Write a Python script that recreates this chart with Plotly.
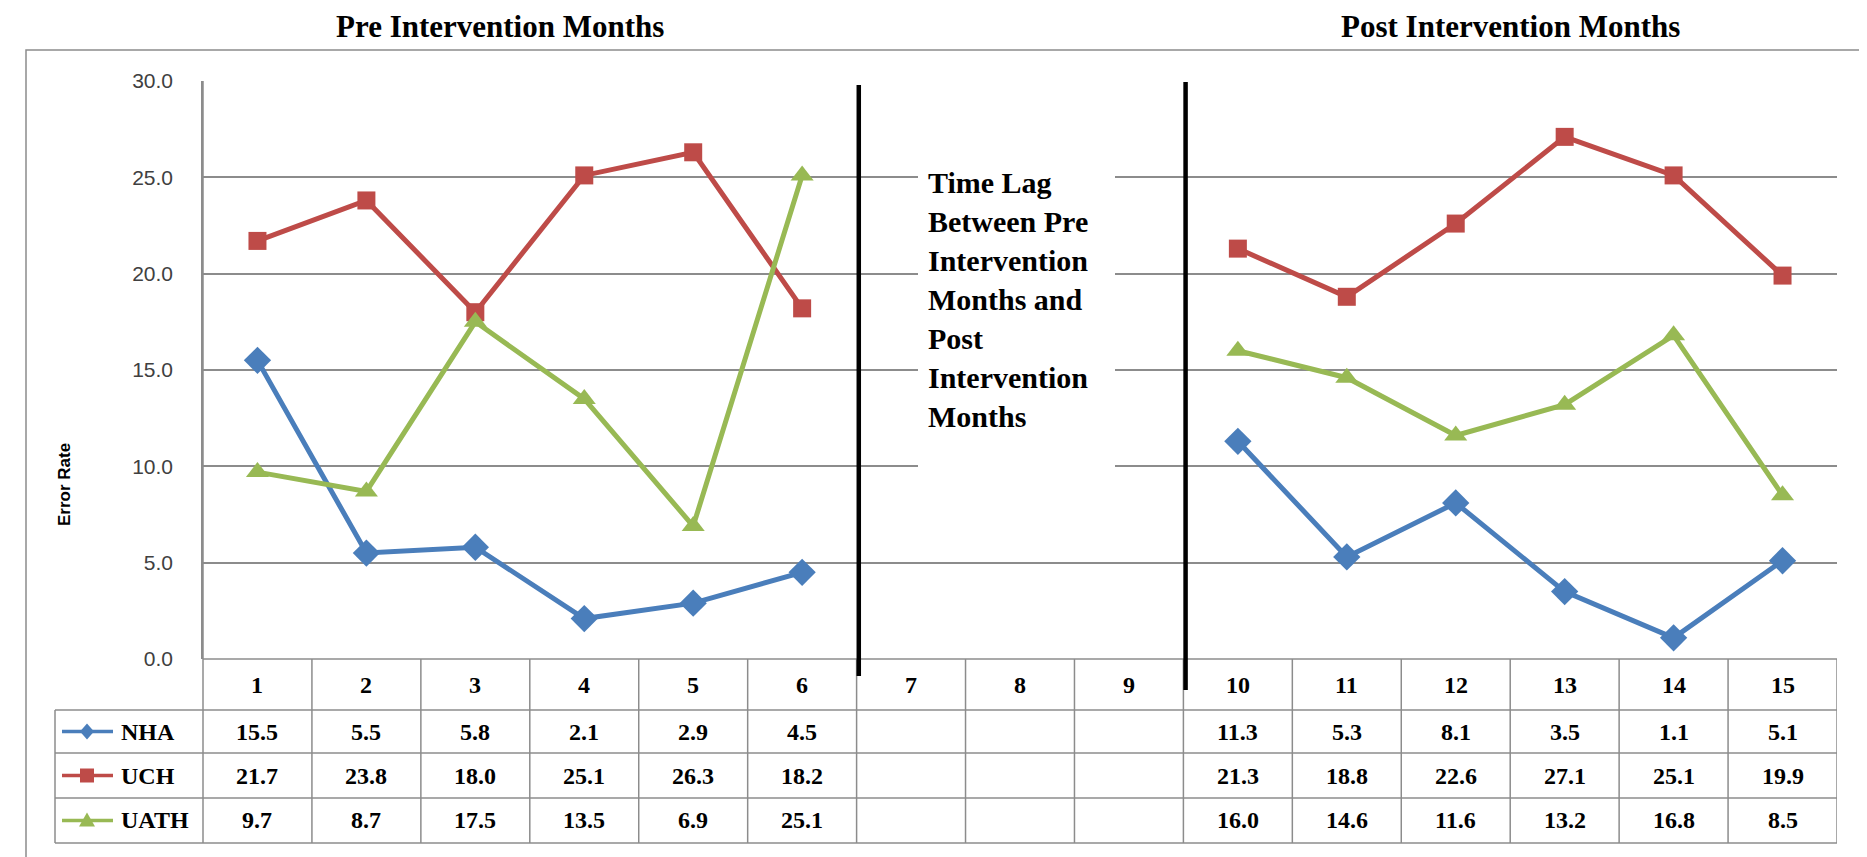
import plotly.graph_objects as go

# ---------------- data ----------------
months = list(range(1, 16))
nha = [15.5, 5.5, 5.8, 2.1, 2.9, 4.5, None, None, None, 11.3, 5.3, 8.1, 3.5, 1.1, 5.1]
uch = [21.7, 23.8, 18.0, 25.1, 26.3, 18.2, None, None, None, 21.3, 18.8, 22.6, 27.1, 25.1, 19.9]
uath = [9.7, 8.7, 17.5, 13.5, 6.9, 25.1, None, None, None, 16.0, 14.6, 11.6, 13.2, 16.8, 8.5]
series_names = ["NHA", "UCH", "UATH"]
y_ticks = [0, 5, 10, 15, 20, 25, 30]
pre_title = "Pre Intervention Months"
post_title = "Post Intervention Months"
y_title = "Error Rate"
lag_text = "Time Lag<br>Between Pre<br>Intervention<br>Months and<br>Post<br>Intervention<br>Months"

# ---------------- styles ----------------
OFF = 8                      # page body margin in the browser
W, H = 1867 - OFF, 857 - OFF
L, R, T, B = 203, 1837, 81, 659   # plot area in screen pixels
colors = ["#4A7EBB", "#BE4B48", "#98B954"]
symbols = ["diamond", "square", "triangle-up"]
msizes = [21, 18, 20]
grid = "#8C8C8C"
serif = "Liberation Serif, Times New Roman, serif"
sans = "Liberation Sans, Arial, sans-serif"


def px(x):
    return (x - L) / (R - L)


def py(y):
    return (B - y) / (B - T)


fig = go.Figure()
for name, vals, c, s, ms in zip(series_names, [nha, uch, uath], colors, symbols, msizes):
    fig.add_trace(go.Scatter(
        x=months, y=vals, name=name, mode="lines+markers", connectgaps=False,
        line=dict(color=c, width=5), marker=dict(symbol=s, size=ms, color=c),
        cliponaxis=False, showlegend=False))

shapes = []
annotations = []


def text_ann(x, y, text, xref="paper", yref="paper", size=24, family=serif,
             xanchor="center", yanchor="middle", **kw):
    d = dict(x=x, y=y, xref=xref, yref=yref, text=text, showarrow=False,
             xanchor=xanchor, yanchor=yanchor,
             font=dict(family=family, size=size, color="black", weight="bold"))
    d.update(kw)
    return d


# outer border
shapes.append(dict(type="rect", xref="paper", yref="paper", x0=px(26), x1=px(1864),
                   y0=py(50), y1=py(880), line=dict(color=grid, width=1.5), layer="below"))

# table horizontal lines
row_lines = [659, 710, 753, 798, 843]
for i, yl in enumerate(row_lines):
    x0 = px(203) if i == 0 else px(55)
    shapes.append(dict(type="line", xref="paper", yref="paper", x0=x0, x1=1,
                       y0=py(yl), y1=py(yl), line=dict(color=grid, width=1.5)))
# table vertical lines
shapes.append(dict(type="line", xref="paper", yref="paper", x0=px(55), x1=px(55),
                   y0=py(710), y1=py(843), line=dict(color=grid, width=1.5)))
shapes.append(dict(type="line", xref="paper", yref="paper", x0=0, x1=0,
                   y0=py(81), y1=py(843), line=dict(color=grid, width=1.5)))
for m in months:
    shapes.append(dict(type="line", xref="x", yref="paper", x0=m + 0.5, x1=m + 0.5,
                       y0=py(659), y1=py(843), line=dict(color=grid, width=1.5)))

# white box behind the lag text
shapes.append(dict(type="rect", xref="paper", yref="paper", x0=px(918), x1=px(1115),
                   y0=py(150), y1=py(478), fillcolor="white", line=dict(width=0),
                   layer="above"))

# thick separators
shapes.append(dict(type="line", xref="x", yref="paper", x0=6.52, x1=6.52,
                   y0=py(85), y1=py(676), line=dict(color="black", width=4.5)))
shapes.append(dict(type="line", xref="x", yref="paper", x0=9.52, x1=9.52,
                   y0=py(82), y1=py(690), line=dict(color="black", width=4.5)))

# header row
header_c = (659 + 710) / 2
for m in months:
    annotations.append(text_ann(m, py(header_c), str(m), xref="x"))

# data rows
row_c = [(710 + 753) / 2, (753 + 798) / 2, (798 + 843) / 2]
for name, vals, c, yc in zip(series_names, [nha, uch, uath], colors, row_c):
    for m, v in zip(months, vals):
        if v is None:
            continue
        annotations.append(text_ann(m, py(yc), f"{v:.1f}", xref="x"))
    # legend key
    shapes.append(dict(type="line", xref="paper", yref="paper", x0=px(62), x1=px(113),
                       y0=py(yc), y1=py(yc), line=dict(color=c, width=3.5)))
    xc = 87
    if name == "NHA":
        path = (f"M {px(xc)},{py(yc-8)} L {px(xc+7)},{py(yc)} L {px(xc)},{py(yc+8)} "
                f"L {px(xc-7)},{py(yc)} Z")
    elif name == "UCH":
        path = (f"M {px(xc-7)},{py(yc-7)} L {px(xc+7)},{py(yc-7)} L {px(xc+7)},{py(yc+7)} "
                f"L {px(xc-7)},{py(yc+7)} Z")
    else:
        path = (f"M {px(xc)},{py(yc-8)} L {px(xc+8)},{py(yc+6)} L {px(xc-8)},{py(yc+6)} Z")
    shapes.append(dict(type="path", xref="paper", yref="paper", path=path,
                       fillcolor=c, line=dict(width=0)))
    annotations.append(text_ann(px(119), py(yc), name, xanchor="left"))

# titles
annotations.append(text_ann(px(500), py(27), pre_title, size=31))
annotations.append(text_ann(px(1510), py(27), post_title, size=31))
# y title
annotations.append(text_ann(px(64), py(485), y_title, family=sans, size=17,
                            textangle=-90))
# lag text
annotations.append(text_ann(px(926), py(299), lag_text, size=30, xanchor="left",
                            align="left"))

fig.update_layout(
    width=W, height=H,
    margin=dict(l=L - OFF, r=(W + OFF) - R, t=T - OFF, b=(H + OFF) - B, pad=0),
    paper_bgcolor="white", plot_bgcolor="white",
    xaxis=dict(range=[0.5, 15.5], showticklabels=False, showgrid=False, zeroline=False,
               showline=False, ticks=""),
    yaxis=dict(range=[0, 30], tickvals=y_ticks, tickformat=".1f", showgrid=True,
               gridcolor=grid, gridwidth=1.5, zeroline=False, showline=True,
               linecolor=grid, linewidth=1.5, ticks="", ticklabelstandoff=24,
               tickfont=dict(family=sans, size=21, color="#404040")),
    shapes=shapes, annotations=annotations,
)

fig.write_html("out.html")
